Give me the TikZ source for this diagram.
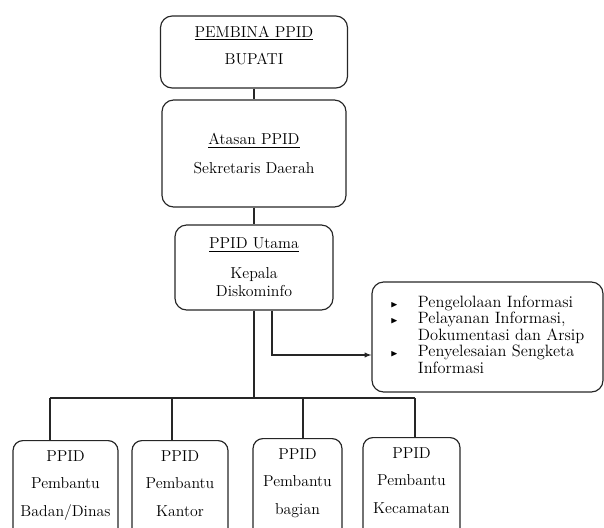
\documentclass[tikz,border=0pt]{standalone}
\usepackage{fontspec}
\usepackage{amssymb}
\newcommand{\tanda}{\footnotesize$\blacktriangleright$}

\begin{document}
\begin{tikzpicture}[x=0.03cm,y=-0.03cm,
    kotak/.style={draw=black!85,line width=1pt,rounded corners=10pt,align=center,
      font=\fontsize{13.5}{16}\selectfont,inner sep=2pt},
    pembantu/.style={kotak,anchor=north,rounded corners=8.5pt,inner ysep=0.3cm,text depth=3cm},
    garis/.style={draw=black!85,line width=1pt}]
      \useasboundingbox (0,0) rectangle (604,528);
      \clip (0,0) rectangle (604,528);
      % struktur atas
      \node[kotak,minimum width=5.61cm,minimum height=2.16cm](pembina) at (254,52)
        {\underline{PEMBINA PPID}\\[7pt]BUPATI\\[-4pt]};
      \node[kotak,minimum width=5.52cm,minimum height=3.21cm](atasan) at (254,153.5)
        {\underline{Atasan PPID}\\[8pt]Sekretaris Daerah};
      \node[kotak,minimum width=4.74cm,minimum height=2.55cm](utama) at (254,267.5)
        {\underline{PPID Utama}\\[9pt]Kepala\\Diskominfo};
      \node[kotak,minimum width=6.93cm,minimum height=3.3cm,
        font=\fontsize{14}{14}\selectfont](tugas) at (487.5,337)
        {\begin{tabular}{@{}l@{\hspace{0.6cm}}l@{}}
          \tanda & Pengelolaan Informasi\\
          \tanda & Pelayanan Informasi,\\
                 & Dokumentasi dan Arsip\\
          \tanda & Penyelesaian Sengketa\\
                 & Informasi
        \end{tabular}};
      % ppid pembantu
      \node[pembantu,minimum width=3.15cm](badan) at (65.5,440)
        {PPID\\[7.5pt]Pembantu\\[7.5pt]Badan/Dinas};
      \node[pembantu,minimum width=2.88cm](kantor) at (180,440)
        {PPID\\[7.5pt]Pembantu\\[7.5pt]Kantor};
      \node[pembantu,minimum width=2.67cm](bagian) at (297.5,438)
        {PPID\\[7.5pt]Pembantu\\[7.5pt]bagian};
      \node[pembantu,minimum width=2.91cm](camat) at (411.5,437)
        {PPID\\[7.5pt]Pembantu\\[7.5pt]Kecamatan};
      \coordinate(bus) at (254,398);
      \coordinate(ka) at (50,398);
      \coordinate(kb) at (172,398);
      \coordinate(kc) at (303,398);
      \coordinate(kd) at (415,398);
      \coordinate(cabang) at (utama.south -| 272,0);
      \draw[garis](pembina)--(atasan)--(utama);
      \draw[garis](utama)--(bus);
      \draw[garis](ka)--(kd);
      \foreach \k/\n in {ka/badan,kb/kantor,kc/bagian,kd/camat}
        \draw[garis](\k)--(\k |- \n.north);
      \draw[garis,-latex](cabang)|-(tugas.west |- 0,355);
    \end{tikzpicture}
\end{document}
